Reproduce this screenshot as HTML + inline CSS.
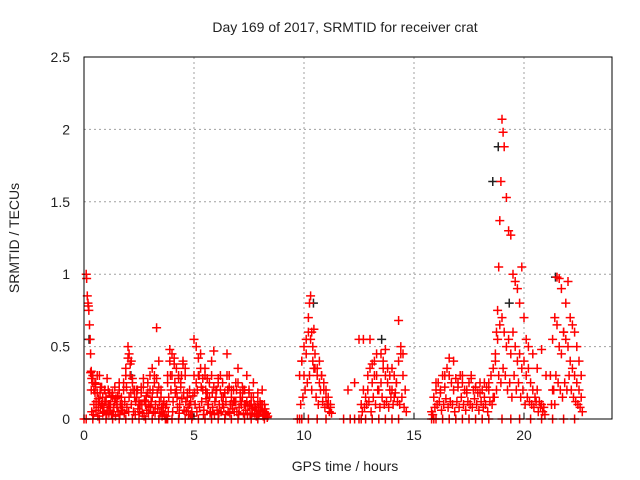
<!DOCTYPE html>
<html><head><meta charset="utf-8"><style>
html,body{margin:0;padding:0;background:#fff;width:640px;height:480px;overflow:hidden}
text{font-family:"Liberation Sans",sans-serif;font-size:14px;fill:#222}
</style></head><body>
<svg id="chart" width="640" height="480" xmlns="http://www.w3.org/2000/svg">
<g id="grid"></g>
<g id="marks"></g>
<rect x="84" y="57" width="528" height="362" fill="none" stroke="#000" stroke-width="1"/>
<g id="axes"></g>
<text x="345" y="32" text-anchor="middle">Day 169 of 2017, SRMTID for receiver crat</text>
<text x="345" y="471" text-anchor="middle">GPS time / hours</text>
<text x="19" y="238" text-anchor="middle" transform="rotate(-90 19 238)">SRMTID / TECUs</text>
</svg>
<script>
const xTicks=[0,5,10,15,20];
const yTicks=[0,0.5,1,1.5,2,2.5];
const yTickLabels=["0","0.5","1","1.5","2","2.5"];
const redTimes=[0.1,0.12,0.15,0.18,0.2,0.22,0.25,0.28,0.3,0.33,0.35,0.4,0.45,0.5,0.55,0.6,0.65,0.7,0.75,0.8,0.85,0.9,0.95,1.0,1.05,1.1,1.15,1.2,1.3,1.4,1.5,1.6,1.7,1.8,1.9,2.0,2.05,2.1,2.15,2.2,2.3,2.4,2.5,2.6,2.7,2.8,2.9,3.0,3.1,3.2,3.3,3.4,3.5,3.6,3.8,3.9,4.0,4.1,4.2,4.3,4.4,4.5,4.6,4.7,4.8,5.0,5.1,5.2,5.3,5.4,5.5,5.6,5.7,5.8,5.9,6.0,6.1,6.2,6.3,6.4,6.5,6.6,6.7,6.8,6.9,7.0,7.1,7.2,7.3,7.4,7.5,7.6,7.7,7.8,7.9,8.0,8.1,8.2,9.9,10.0,10.1,10.2,10.25,10.3,10.35,10.4,10.45,10.5,10.6,10.7,10.8,10.9,11.0,11.1,11.2,12.0,12.3,12.5,12.7,12.9,13.0,13.1,13.2,13.3,13.5,13.6,13.7,13.8,13.9,14.0,14.1,14.2,14.3,14.4,14.5,16.0,16.2,16.4,16.6,16.8,17.0,17.2,17.4,17.6,17.8,18.0,18.2,18.4,18.6,18.7,18.75,18.8,18.85,18.9,18.95,19.0,19.05,19.1,19.2,19.3,19.4,19.5,19.6,19.7,19.8,19.9,20.0,20.1,20.2,20.4,20.6,20.8,21.0,21.3,21.4,21.5,21.6,21.7,21.8,21.9,22.0,22.1,22.2,22.3,22.4,22.5,22.6];
const redValues=[1.0,0.97,0.85,0.8,0.78,0.75,0.65,0.55,0.45,0.33,0.28,0.3,0.2,0.25,0.12,0.18,0.08,0.3,0.22,0.1,0.15,0.05,0.2,0.12,0.28,0.1,0.18,0.06,0.15,0.22,0.1,0.25,0.08,0.2,0.3,0.5,0.45,0.38,0.4,0.25,0.15,0.2,0.1,0.22,0.28,0.12,0.18,0.3,0.35,0.25,0.63,0.4,0.2,0.1,0.3,0.48,0.45,0.38,0.2,0.3,0.25,0.4,0.35,0.15,0.2,0.55,0.5,0.3,0.45,0.2,0.35,0.28,0.15,0.4,0.47,0.2,0.25,0.3,0.1,0.18,0.45,0.3,0.2,0.12,0.25,0.35,0.15,0.22,0.1,0.3,0.2,0.15,0.25,0.08,0.18,0.12,0.2,0.1,0.4,0.3,0.55,0.7,0.8,0.85,0.6,0.5,0.62,0.45,0.35,0.4,0.3,0.25,0.2,0.15,0.1,0.2,0.25,0.55,0.55,0.2,0.55,0.38,0.3,0.45,0.25,0.4,0.48,0.35,0.3,0.2,0.15,0.25,0.68,0.5,0.45,0.25,0.2,0.3,0.42,0.4,0.25,0.3,0.2,0.28,0.22,0.18,0.25,0.2,0.15,0.45,0.6,0.75,1.05,1.37,1.64,2.07,1.98,1.88,1.53,1.3,1.27,1.0,0.95,0.9,0.8,1.05,0.7,0.55,0.5,0.45,0.35,0.48,0.3,0.2,0.1,0.98,0.97,0.9,0.6,0.8,0.95,0.7,0.65,0.6,0.5,0.4,0.3,0.25,0.2];
// dense low-level clusters
const denseTimesA=[0.3,0.4,0.5,0.6,0.7,0.8,0.9,1.0,1.1,1.2,1.3,1.4,1.5,1.6,1.7,1.8,1.9,2.0,2.1,2.2,2.3,2.4,2.5,2.6,2.7,2.8,2.9,3.0,3.1,3.2,3.3,3.4,3.5,3.6,3.7,3.8,3.9,4.0,4.1,4.2,4.3,4.4,4.5,4.6,4.7,4.8,4.9,5.0,5.1,5.2,5.3,5.4,5.5,5.6,5.7,5.8,5.9,6.0,6.1,6.2,6.3,6.4,6.5,6.6,6.7,6.8,6.9,7.0,7.1,7.2,7.3,7.4,7.5,7.6,7.7,7.8,7.9,8.0,8.1,8.2,8.3];
const denseValsA1=[0.32,0.25,0.18,0.3,0.12,0.22,0.08,0.15,0.2,0.1,0.18,0.12,0.08,0.2,0.15,0.25,0.35,0.42,0.3,0.28,0.2,0.15,0.12,0.18,0.22,0.1,0.25,0.2,0.15,0.3,0.28,0.22,0.15,0.05,0.08,0.25,0.4,0.3,0.42,0.35,0.28,0.22,0.38,0.3,0.18,0.1,0.05,0.3,0.25,0.42,0.35,0.28,0.3,0.18,0.25,0.3,0.22,0.15,0.28,0.2,0.25,0.18,0.3,0.22,0.15,0.2,0.12,0.25,0.18,0.15,0.2,0.12,0.18,0.1,0.15,0.08,0.12,0.06,0.1,0.05,0.04];
const denseValsA2=[0.05,0.1,0.06,0.14,0.08,0.04,0.12,0.06,0.1,0.03,0.08,0.14,0.05,0.1,0.06,0.12,0.08,0.15,0.1,0.05,0.12,0.07,0.1,0.04,0.13,0.06,0.09,0.12,0.05,0.1,0.07,0.04,0.02,0.03,0.1,0.15,0.2,0.12,0.18,0.08,0.1,0.14,0.06,0.05,0.03,0.12,0.16,0.1,0.2,0.08,0.12,0.06,0.14,0.1,0.05,0.08,0.12,0.06,0.1,0.15,0.08,0.12,0.05,0.1,0.07,0.12,0.05,0.08,0.1,0.04,0.06,0.09,0.03,0.07,0.04,0.06,0.03,0.05,0.02,0.03,0.02];
const denseValsA3=[0.2,0.03,0.24,0.02,0.18,0.1,0.2,0.03,0.04,0.16,0.05,0.02,0.16,0.03,0.1,0.04,0.22,0.05,0.18,0.2,0.03,0.2,0.05,0.1,0.02,0.16,0.04,0.08,0.2,0.04,0.18,0.12,0.08,0.12,0.02,0.05,0.3,0.05,0.25,0.15,0.04,0.3,0.18,0.12,0.08,0.03,0.02,0.18,0.05,0.3,0.22,0.03,0.2,0.1,0.04,0.18,0.03,0.2,0.04,0.05,0.15,0.03,0.2,0.04,0.1,0.05,0.2,0.03,0.12,0.2,0.1,0.03,0.1,0.04,0.1,0.02,0.08,0.1,0.03,0.07,0.01];
const denseTimesB=[9.8,9.9,10.0,10.1,10.2,10.3,10.4,10.5,10.6,10.7,10.8,10.9,11.0,11.1,11.2];
const denseValsB1=[0.3,0.4,0.5,0.45,0.6,0.55,0.4,0.35,0.3,0.25,0.3,0.2,0.15,0.1,0.08];
const denseValsB2=[0.1,0.15,0.2,0.25,0.3,0.2,0.35,0.15,0.1,0.2,0.12,0.08,0.1,0.05,0.04];
const denseTimesC=[12.6,12.7,12.8,12.9,13.0,13.1,13.2,13.3,13.4,13.5,13.6,13.7,13.8,13.9,14.0,14.1,14.2,14.3,14.4,14.5,14.6];
const denseValsC1=[0.1,0.2,0.15,0.3,0.35,0.25,0.4,0.3,0.2,0.45,0.35,0.3,0.25,0.2,0.35,0.3,0.25,0.4,0.45,0.3,0.2];
const denseValsC2=[0.05,0.08,0.1,0.12,0.05,0.15,0.1,0.2,0.08,0.15,0.1,0.12,0.08,0.15,0.1,0.18,0.12,0.1,0.15,0.08,0.05];
const denseTimesD=[15.8,15.9,16.0,16.1,16.2,16.3,16.4,16.5,16.6,16.7,16.8,16.9,17.0,17.1,17.2,17.3,17.4,17.5,17.6,17.7,17.8,17.9,18.0,18.1,18.2,18.3,18.4,18.5,18.6];
const denseValsD1=[0.05,0.15,0.2,0.25,0.18,0.3,0.22,0.35,0.3,0.25,0.2,0.28,0.22,0.3,0.25,0.2,0.18,0.25,0.3,0.2,0.22,0.18,0.25,0.2,0.15,0.22,0.25,0.3,0.35];
const denseValsD2=[0.03,0.08,0.1,0.12,0.06,0.1,0.14,0.08,0.12,0.1,0.05,0.12,0.08,0.15,0.1,0.06,0.12,0.1,0.08,0.14,0.1,0.06,0.12,0.08,0.1,0.05,0.12,0.1,0.15];
const denseTimesE=[18.7,18.8,18.9,19.0,19.1,19.2,19.3,19.4,19.5,19.6,19.7,19.8,19.9,20.0,20.1,20.2,20.3,20.4,20.5,20.6,20.7,20.8,20.9];
const denseValsE1=[0.4,0.55,0.65,0.7,0.6,0.5,0.55,0.45,0.6,0.5,0.4,0.45,0.35,0.4,0.3,0.35,0.25,0.2,0.15,0.2,0.12,0.1,0.08];
const denseValsE2=[0.2,0.3,0.25,0.35,0.3,0.2,0.25,0.15,0.3,0.2,0.25,0.15,0.2,0.1,0.15,0.12,0.1,0.08,0.12,0.05,0.08,0.05,0.03];
const denseTimesF=[21.2,21.3,21.4,21.5,21.6,21.7,21.8,21.9,22.0,22.1,22.2,22.3,22.4,22.5,22.6];
const denseValsF1=[0.3,0.55,0.7,0.65,0.5,0.45,0.6,0.55,0.5,0.4,0.35,0.3,0.25,0.2,0.15];
const denseValsF2=[0.1,0.2,0.3,0.25,0.2,0.15,0.25,0.2,0.3,0.2,0.15,0.12,0.1,0.08,0.05];
const zeroTimes=[0.0,0.1,0.4,0.7,1.0,1.3,1.6,1.9,2.2,2.5,2.8,3.1,3.4,3.7,3.75,3.8,4.0,4.3,4.6,4.9,5.2,5.5,5.8,6.1,6.4,6.7,7.0,7.3,7.6,7.9,8.2,9.7,9.8,9.9,10.2,10.6,11.0,11.8,12.1,12.3,12.5,12.6,12.8,13.1,13.4,13.7,14.0,14.3,15.8,15.9,16.0,16.3,16.6,16.9,17.2,17.5,17.8,18.1,18.4,19.0,19.4,19.8,20.3,20.8,21.3,21.8,22.3];
const blackTimes=[0.2,2.1,10.4,13.5,18.55,18.8,19.3,21.4];
const blackValues=[0.55,0.3,0.8,0.55,1.64,1.88,0.8,0.98];

const L=84,R=612,T=57,B=419,xMax=24,yMax=2.5;
const xs=v=>L+(R-L)*v/xMax, ys=v=>B-(B-T)*v/yMax;
const NS="http://www.w3.org/2000/svg";
const grid=document.getElementById('grid'),axes=document.getElementById('axes'),marks=document.getElementById('marks');
function mk(tag,at,parent){const e=document.createElementNS(NS,tag);for(const k in at)e.setAttribute(k,at[k]);parent.appendChild(e);return e;}
xTicks.forEach(t=>{
  if(t>0){const g=mk('line',{x1:xs(t),x2:xs(t),y1:T,y2:B,stroke:'#a0a0a0','stroke-dasharray':'2,3'},grid);
  
  }
  const tk=mk('line',{x1:xs(t),x2:xs(t),y1:B,y2:B-6,stroke:'#000'},axes);
  
  
  const lb=mk('text',{x:xs(t),y:B+21,'text-anchor':'middle'},axes);lb.textContent=t;
  
  
});
yTicks.forEach((t,i)=>{
  if(t>0&&t<yMax){const g=mk('line',{x1:L,x2:R,y1:ys(t),y2:ys(t),stroke:'#a0a0a0','stroke-dasharray':'2,3'},grid);
  
  }
  const lb=mk('text',{x:L-14,y:ys(t)+5,'text-anchor':'end'},axes);lb.textContent=yTickLabels[i];
  
  
});
function plus(t,v,c){
  const x=xs(t),y=ys(v);
  const p=mk('path',{d:`M${x-4.5},${y}H${x+4.5}M${x},${y-4.5}V${y+4.5}`,stroke:c,'stroke-width':1.5,fill:'none'},marks);
  
  
}
function series(ts,vs,c){const n=Math.min(ts.length,vs.length);for(let i=0;i<n;i++)plus(ts[i],vs[i],c);}
series(blackTimes.map(t=>t+0.03),blackValues,'#222');
series(redTimes,redValues,'#ff0000');
series(denseTimesA,denseValsA1,'#ff0000');
series(denseTimesA.map(t=>t+0.05),denseValsA2,'#ff0000');
series(denseTimesA.map(t=>t+0.03),denseValsA3,'#ff0000');
series(denseTimesB,denseValsB1,'#ff0000');
series(denseTimesB.map(t=>t+0.05),denseValsB2,'#ff0000');
series(denseTimesC,denseValsC1,'#ff0000');
series(denseTimesC.map(t=>t+0.05),denseValsC2,'#ff0000');
series(denseTimesD,denseValsD1,'#ff0000');
series(denseTimesD.map(t=>t+0.05),denseValsD2,'#ff0000');
series(denseTimesE,denseValsE1,'#ff0000');
series(denseTimesE.map(t=>t+0.05),denseValsE2,'#ff0000');
series(denseTimesF,denseValsF1,'#ff0000');
series(denseTimesF.map(t=>t+0.05),denseValsF2,'#ff0000');
series(zeroTimes,zeroTimes.map(()=>0),'#ff0000');
</script>
</body></html>
